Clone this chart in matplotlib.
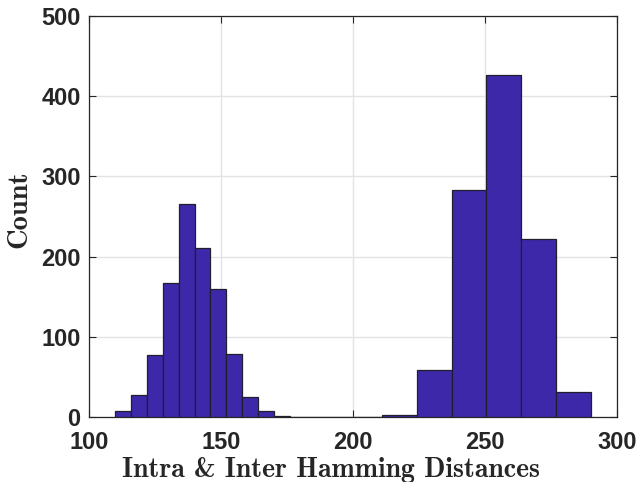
import matplotlib
matplotlib.use("Agg")
import matplotlib.pyplot as plt
from matplotlib import font_manager as fm
import numpy as np

# Intra-class histogram (bin width 6, starting at 110)
intra_edges_start = 110
intra_bin_width = 6
intra_counts = [7, 27, 77, 167, 265, 211, 159, 78, 25, 8, 1, 0, 0, 0, 0, 0, 0]

# Inter-class histogram (6 bins from ~211 to 290)
inter_edges_start = 211
inter_edges_end = 290
inter_counts = [3, 58, 283, 426, 222, 31]

xticks = [100, 150, 200, 250, 300]
yticks = [0, 100, 200, 300, 400, 500]
xlabel = "Intra & Inter Hamming Distances"
ylabel = "Count"

bar_color = "#3D28A9"
edge_color = "#1f1f2e"
axis_color = "#262626"

# pick regular-width Liberation Sans Bold
tick_fp = None
for f in fm.fontManager.ttflist:
    if f.fname.endswith("LiberationSans-Bold.ttf"):
        tick_fp = fm.FontProperties(fname=f.fname, size=17)
        break
if tick_fp is None:
    tick_fp = fm.FontProperties(family="DejaVu Sans", weight="bold", size=16)

fig = plt.figure(figsize=(6.39, 4.82), dpi=100)
ax = fig.add_axes([89/639, (482-417)/482, 528/639, 401/482])

intra_edges = intra_edges_start + intra_bin_width*np.arange(len(intra_counts)+1)
ax.bar(intra_edges[:-1], intra_counts, width=np.diff(intra_edges), align="edge",
       color=bar_color, edgecolor=edge_color, linewidth=0.9, zorder=3)

inter_edges = np.linspace(inter_edges_start, inter_edges_end, len(inter_counts)+1)
ax.bar(inter_edges[:-1], inter_counts, width=np.diff(inter_edges), align="edge",
       color=bar_color, edgecolor=edge_color, linewidth=0.9, zorder=3)

ax.set_xlim(100, 300)
ax.set_ylim(0, 500)
ax.set_xticks(xticks)
ax.set_yticks(yticks)
ax.grid(True, color="#e3e3e3", linewidth=1.0, zorder=0)
ax.set_axisbelow(True)
ax.tick_params(direction="in", length=5, width=0.8, colors=axis_color,
               top=True, right=True)
ax.tick_params(axis="x", pad=10)
ax.tick_params(axis="y", pad=6)
for lbl in ax.get_xticklabels() + ax.get_yticklabels():
    lbl.set_fontproperties(tick_fp)
    lbl.set_color("#262626")
for s in ax.spines.values():
    s.set_color(axis_color)
    s.set_linewidth(0.9)

ax.set_xlabel(xlabel, fontfamily="cmb10", fontsize=20, color="#262626")
ax.set_ylabel(ylabel, fontfamily="cmb10", fontsize=20.5, color="#262626")
ax.xaxis.set_label_coords(0.458, -0.100)
ax.yaxis.set_label_coords(-0.108, 0.519)

fig.savefig("out.png", dpi=100)
